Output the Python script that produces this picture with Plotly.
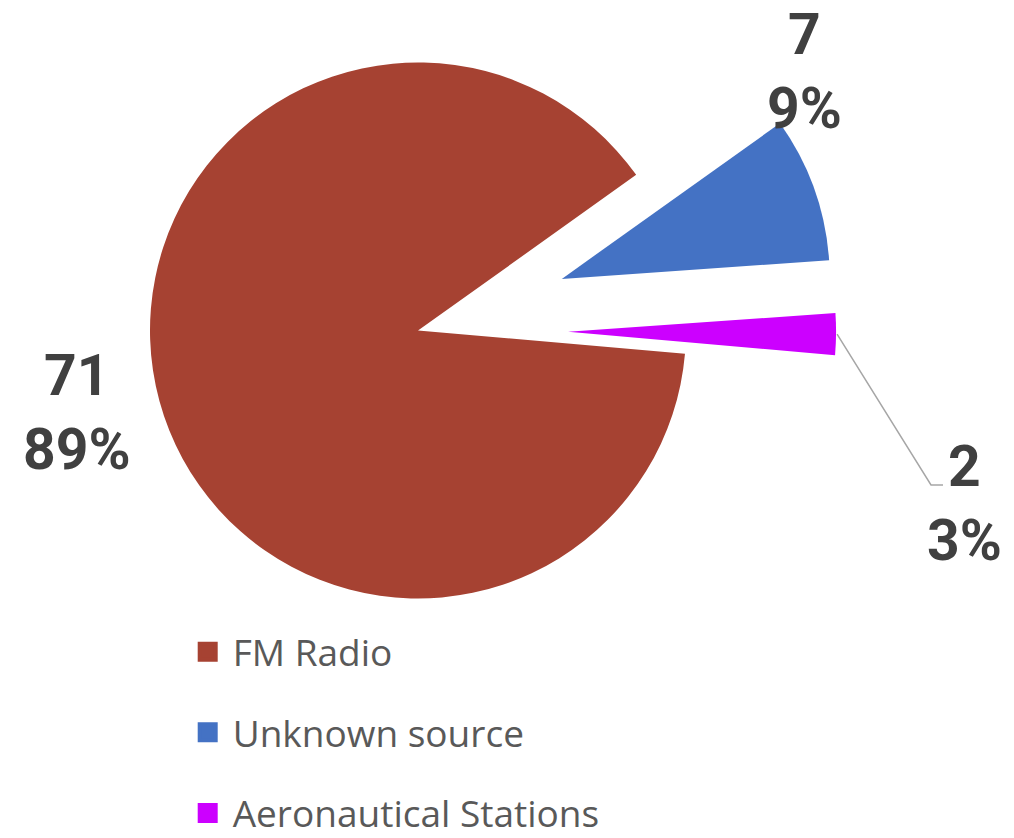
import math
import plotly.graph_objects as go

# ---- data ----
labels = ["FM Radio", "Unknown source", "Aeronautical Stations"]
values = [71, 7, 2]

# ---- styles ----
colors = ["#A64232", "#4472C4", "#CC00FF"]
pulls = [0.0, 0.57, 0.56]
W, H = 1014, 838
CX, CY, R = 418, 330.5, 268       # pie centre / radius in px
ROTATION = 95                      # start angle (deg, clockwise from 12 o'clock)
label_pos = [(77, 412.5), (804.5, 71), (964, 503.5)]   # label centres in px
LABEL_COLOR = "#404040"

total = sum(values)
pcts = [int(v / total * 100 + 0.5) for v in values]
label_text = [f"{v}<br>{p}%" for v, p in zip(values, pcts)]

fig = go.Figure()

cum = 0
slice_centres = []
mid_angles = []
for k, v in enumerate(values):
    mid = math.radians(ROTATION + 360 * (cum + v / 2) / total)
    cum += v
    cx = CX + pulls[k] * R * math.sin(mid)
    cy = CY - pulls[k] * R * math.cos(mid)
    slice_centres.append((cx, cy))
    mid_angles.append(mid)
    slice_colors = [colors[j] if j == k else "rgba(0,0,0,0)" for j in range(len(values))]
    fig.add_trace(go.Pie(
        labels=labels, values=values, sort=False, direction="clockwise",
        rotation=ROTATION,
        marker=dict(colors=slice_colors, line=dict(width=0)),
        textinfo="none", showlegend=False,
        hovertemplate="%{label}: %{value} (%{percent})<extra></extra>",
        domain=dict(x=[(cx - R) / W, (cx + R) / W],
                    y=[1 - (cy + R) / H, 1 - (cy - R) / H]),
    ))

# legend entries (square swatches)
for k, lab in enumerate(labels):
    fig.add_trace(go.Scatter(
        x=[None], y=[None], mode="markers", name=lab, legendgroup=lab,
        marker=dict(symbol="square", size=16, color=colors[k],
                    line=dict(width=4, color=colors[k])),
        hoverinfo="skip",
    ))

# data labels
for k in range(len(values)):
    px, py = label_pos[k]
    fig.add_annotation(
        x=px / W, y=1 - py / H, xref="paper", yref="paper",
        text=label_text[k], showarrow=False, xanchor="center", yanchor="middle",
        font=dict(family="Roboto", size=57, color=LABEL_COLOR, weight=700),
    )

# leader line for the small slice
k = 2
ex = slice_centres[k][0] + R * math.sin(mid_angles[k])
ey = slice_centres[k][1] - R * math.cos(mid_angles[k])
pts = [(ex + 1, ey), (931, 485), (943, 485)]
path = "M " + " L ".join(f"{x / W},{1 - y / H}" for x, y in pts)
fig.add_shape(type="path", path=path, xref="paper", yref="paper",
              line=dict(color="#A6A6A6", width=1.5))

fig.update_layout(
    width=W, height=H,
    margin=dict(l=0, r=0, t=0, b=0, pad=0, autoexpand=False),
    paper_bgcolor="white", plot_bgcolor="white",
    xaxis=dict(visible=False), yaxis=dict(visible=False),
    showlegend=True,
    legend=dict(
        x=182.7 / W, y=1 - 621.2 / H, xanchor="left", yanchor="top",
        orientation="v", traceorder="grouped", tracegroupgap=29.5,
        itemwidth=40,
        font=dict(family="Open Sans", size=37, color="#595959"),
        bgcolor="rgba(0,0,0,0)",
    ),
    hovermode="closest",
)

fig.write_html(
    "out.html",
    config={"displayModeBar": False},
    post_script="document.body.style.margin='0px';document.body.style.overflow='hidden';",
)
